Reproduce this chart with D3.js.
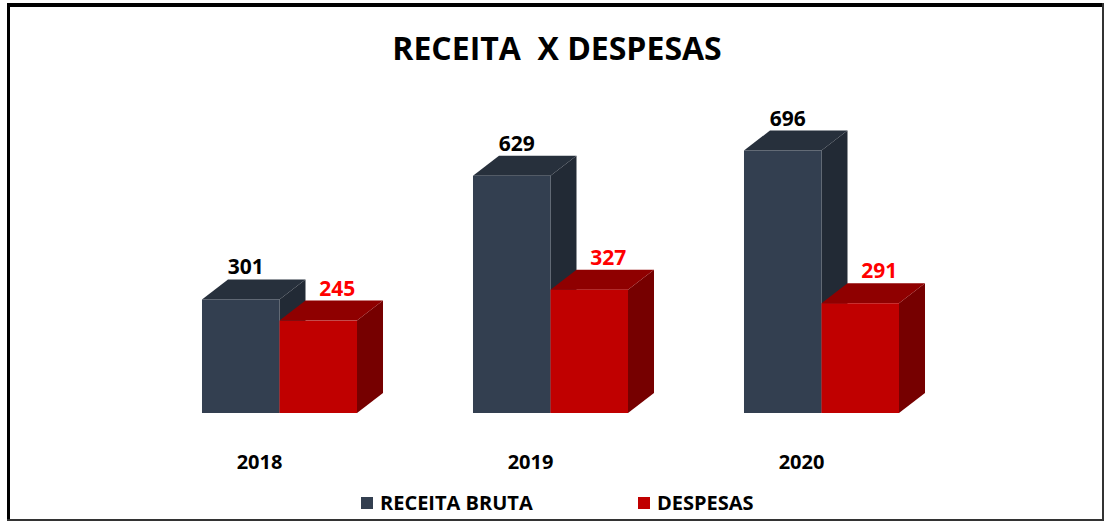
<!DOCTYPE html>
<html>
<head>
<meta charset="utf-8">
<script src="https://cdn.jsdelivr.net/npm/d3@7"></script>
<style>
  body { margin: 0; background: #fff; }
  svg { display: block; }
  text { font-family: "Open Sans", Lato, sans-serif; font-weight: bold; }
</style>
</head>
<body>
<div id="chart"></div>
<script>
var width = 1106;
var height = 522;

// data
var years = ["2018", "2019", "2020"];
var series = ["RECEITA BRUTA", "DESPESAS"];
var receita = [301, 629, 696];
var despesas = [245, 327, 291];

var frontColor = ["#333f50", "#c00000"];
var topColor = ["#27303c", "#8f0000"];
var sideColor = ["#222a35", "#760000"];
var labelColor = ["#000000", "#ff0000"];

var depthX = 26, depthY = 20;

var svg = d3.select('#chart').append('svg')
    .attr('width', width)
    .attr('height', height);

// frame
svg.append('line').attr('x1', 7).attr('y1', 5).attr('x2', 1104).attr('y2', 5)
    .attr('stroke', '#000').attr('stroke-width', 4);
svg.append('line').attr('x1', 8.5).attr('y1', 3).attr('x2', 8.5).attr('y2', 521)
    .attr('stroke', '#000').attr('stroke-width', 3);
svg.append('line').attr('x1', 1103).attr('y1', 3).attr('x2', 1103).attr('y2', 521)
    .attr('stroke', '#333').attr('stroke-width', 2);
svg.append('line').attr('x1', 7).attr('y1', 520).attr('x2', 1104).attr('y2', 520)
    .attr('stroke', '#333').attr('stroke-width', 2);

// title
svg.append('text')
    .attr('x', 557)
    .attr('y', 60)
    .attr('text-anchor', 'middle')
    .style('font-size', '32px')
    .style('white-space', 'pre')
    .attr('fill', '#000')
    .text('RECEITA  X DESPESAS');

var xScale = d3.scaleBand()
    .domain(years)
    .range([144, 957])
    .paddingInner(0.428)
    .paddingOuter(0.214);

var xInner = d3.scaleBand()
    .domain(series)
    .range([0, xScale.bandwidth()]);

var yScale = d3.scaleLinear()
    .domain([0, 700])
    .range([413, 149]);

var rows = years.map(function(y, i) {
    return { year: y, values: [receita[i], despesas[i]] };
});

var groups = svg.selectAll('.grp')
    .data(rows)
    .enter().append('g')
    .attr('class', 'grp');

groups.each(function(d) {
    var g = d3.select(this);
    d.values.forEach(function(v, s) {
        var x0 = xScale(d.year) + xInner(series[s]);
        var x1 = x0 + xInner.bandwidth();
        var yt = yScale(v);
        var yb = yScale(0);
        // side face
        g.append('polygon')
            .attr('points', [[x1, yt], [x1 + depthX, yt - depthY], [x1 + depthX, yb - depthY], [x1, yb]].join(' '))
            .attr('fill', sideColor[s]);
        // top face
        g.append('polygon')
            .attr('points', [[x0, yt], [x0 + depthX, yt - depthY], [x1 + depthX, yt - depthY], [x1, yt]].join(' '))
            .attr('fill', topColor[s]);
        // front face
        g.append('rect')
            .attr('x', x0)
            .attr('y', yt)
            .attr('width', x1 - x0)
            .attr('height', yb - yt)
            .attr('fill', frontColor[s]);
        // value label
        g.append('text')
            .attr('x', (x0 + x1) / 2 + (s == 0 ? 5 : 19))
            .attr('y', yt - depthY - 5)
            .attr('text-anchor', 'middle')
            .style('font-size', '21px')
            .attr('fill', labelColor[s])
            .text(v);
    });
    // category label
    g.append('text')
        .attr('x', xScale(d.year) + xScale.bandwidth() / 2 - 20)
        .attr('y', 469)
        .attr('text-anchor', 'middle')
        .style('font-size', '20px')
        .attr('fill', '#000')
        .text(d.year);
});

// legend
var legendX = [361, 638];
series.forEach(function(name, s) {
    svg.append('rect')
        .attr('x', legendX[s])
        .attr('y', 497)
        .attr('width', 12)
        .attr('height', 12)
        .attr('fill', frontColor[s]);
    svg.append('text')
        .attr('x', legendX[s] + 19)
        .attr('y', 510)
        .style('font-size', '20px')
        .attr('fill', '#000')
        .text(name);
});
</script>
</body>
</html>
